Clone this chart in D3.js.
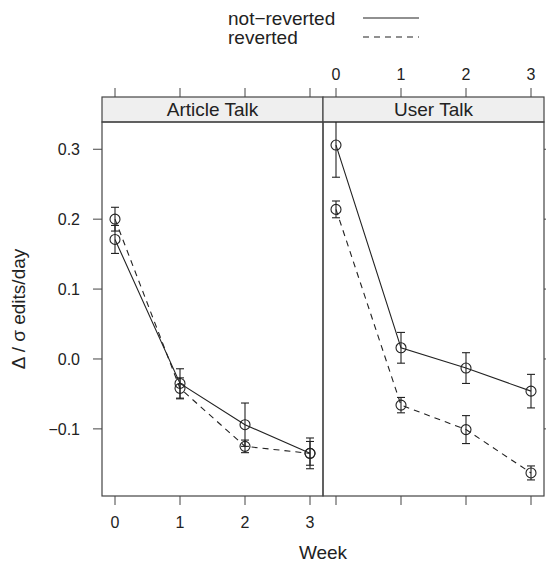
<!DOCTYPE html>
<html>
<head>
    <meta charset="utf-8">
    <script src="https://d3js.org/d3.v7.min.js"></script>
    <style>
        body, html { margin: 0; padding: 0; background: white; }
        svg { font-family: "Liberation Sans", Arial, sans-serif; }
    </style>
</head>
<body>
<svg id="chart" width="546" height="562"></svg>
<script>
    // data
    const panels = ["Article Talk", "User Talk"];
    const weeks = [0, 1, 2, 3];
    const groups = ["not\u2212reverted", "reverted"];
    // mean per panel, per group, per week
    const articleNotRev = [0.171, -0.035, -0.094, -0.135];
    const articleNotRevErr = [0.020, 0.021, 0.031, 0.022];
    const articleRev = [0.200, -0.042, -0.125, -0.135];
    const articleRevErr = [0.017, 0.015, 0.009, 0.017];
    const userNotRev = [0.306, 0.016, -0.013, -0.046];
    const userNotRevErr = [0.046, 0.022, 0.022, 0.024];
    const userRev = [0.214, -0.066, -0.101, -0.163];
    const userRevErr = [0.012, 0.011, 0.020, 0.010];
    const yTicks = [-0.1, 0.0, 0.1, 0.2, 0.3];

    const series = [
        { panel: 0, group: 0, mean: articleNotRev, err: articleNotRevErr },
        { panel: 0, group: 1, mean: articleRev, err: articleRevErr },
        { panel: 1, group: 0, mean: userNotRev, err: userNotRevErr },
        { panel: 1, group: 1, mean: userRev, err: userRevErr }
    ];

    const svg = d3.select("#chart");
    const pLeft = 102, pRight = 544, pTop = 122, pBottom = 496, stripH = 25;
    const panelW = (pRight - pLeft) / 2;
    const ink = "#222";
    const frame = "#444";

    const y = d3.scaleLinear().domain([-0.196, 0.339]).range([pBottom, pTop]);

    // d3.format already gives a real minus sign
    const fmt = d3.format(".1f");

    panels.forEach((name, p) => {
        const x0 = pLeft + p * panelW;
        const x = d3.scaleLinear().domain([-0.2, 3.2]).range([x0, x0 + panelW]);
        const g = svg.append("g");

        g.append("clipPath").attr("id", "clip" + p)
            .append("rect").attr("x", x0).attr("y", pTop).attr("width", panelW).attr("height", pBottom - pTop);

        // strip
        g.append("rect")
            .attr("x", x0).attr("y", pTop - stripH)
            .attr("width", panelW).attr("height", stripH)
            .attr("fill", "#efefef").attr("stroke", frame).attr("stroke-width", 1.2);
        g.append("text")
            .attr("x", x0 + panelW / 2).attr("y", pTop - stripH / 2)
            .attr("dy", "0.36em").attr("text-anchor", "middle")
            .attr("font-size", "19px").attr("fill", ink)
            .text(name);

        // panel box
        g.append("rect")
            .attr("x", x0).attr("y", pTop).attr("width", panelW).attr("height", pBottom - pTop)
            .attr("fill", "none").attr("stroke", frame).attr("stroke-width", 1.2);

        // x ticks: bottom labels on left panel, top labels on right panel
        weeks.forEach(w => {
            g.append("line").attr("x1", x(w)).attr("x2", x(w))
                .attr("y1", pBottom).attr("y2", pBottom + 9).attr("stroke", frame);
            g.append("line").attr("x1", x(w)).attr("x2", x(w))
                .attr("y1", pTop - stripH).attr("y2", pTop - stripH - 9).attr("stroke", frame);
        });
        g.selectAll(".xl").data(weeks).enter().append("text")
            .attr("x", d => x(d))
            .attr("y", p === 0 ? pBottom + 26 : pTop - stripH - 23)
            .attr("dy", "0.36em").attr("text-anchor", "middle")
            .attr("font-size", "16px").attr("fill", ink)
            .text(d => d);

        const sel = series.filter(s => s.panel === p);
        const line = d3.line().x((d, i) => x(weeks[i])).y(d => y(d));
        const inner = g.append("g").attr("clip-path", `url(#clip${p})`);

        sel.forEach(s => {
            inner.append("path")
                .attr("d", line(s.mean))
                .attr("fill", "none").attr("stroke", ink).attr("stroke-width", 1.1)
                .attr("stroke-dasharray", s.group === 1 ? "6,5" : null);

            s.mean.forEach((m, i) => {
                const cx = x(weeks[i]);
                const lo = y(m - s.err[i]), hi = y(m + s.err[i]);
                inner.append("line").attr("x1", cx).attr("x2", cx).attr("y1", lo).attr("y2", hi)
                    .attr("stroke", ink).attr("stroke-width", 1.1);
                [lo, hi].forEach(v => inner.append("line")
                    .attr("x1", cx - 4).attr("x2", cx + 4).attr("y1", v).attr("y2", v)
                    .attr("stroke", ink).attr("stroke-width", 1.1));
                inner.append("circle").attr("cx", cx).attr("cy", y(m)).attr("r", 5)
                    .attr("fill", "none").attr("stroke", ink).attr("stroke-width", 1.1);
            });
        });
    });

    // y ticks: left with labels, right without
    yTicks.forEach(t => {
        svg.append("line").attr("x1", pLeft - 9).attr("x2", pLeft)
            .attr("y1", y(t)).attr("y2", y(t)).attr("stroke", frame);
        svg.append("line").attr("x1", pRight).attr("x2", pRight + 9)
            .attr("y1", y(t)).attr("y2", y(t)).attr("stroke", frame);
        svg.append("text").attr("x", pLeft - 22).attr("y", y(t))
            .attr("dy", "0.36em").attr("text-anchor", "end")
            .attr("font-size", "16px").attr("fill", ink)
            .text(fmt(t));
    });

    // axis titles
    svg.append("text").attr("x", (pLeft + pRight) / 2).attr("y", 559)
        .attr("text-anchor", "middle").attr("font-size", "19px").attr("fill", ink)
        .text("Week");
    svg.append("text")
        .attr("transform", `translate(25,${(pTop + pBottom) / 2}) rotate(-90)`)
        .attr("text-anchor", "middle").attr("font-size", "19px").attr("fill", ink)
        .text("\u0394 / \u03c3 edits/day");

    // legend
    groups.forEach((gname, i) => {
        const ly = 18 + i * 19;
        svg.append("text").attr("x", 228).attr("y", ly).attr("dy", "0.36em")
            .attr("font-size", "19px").attr("fill", ink).text(gname);
        svg.append("line").attr("x1", 363).attr("x2", 419).attr("y1", ly).attr("y2", ly)
            .attr("stroke", ink).attr("stroke-width", 1.1)
            .attr("stroke-dasharray", i === 1 ? "6,5" : null);
    });
</script>
</body>
</html>
